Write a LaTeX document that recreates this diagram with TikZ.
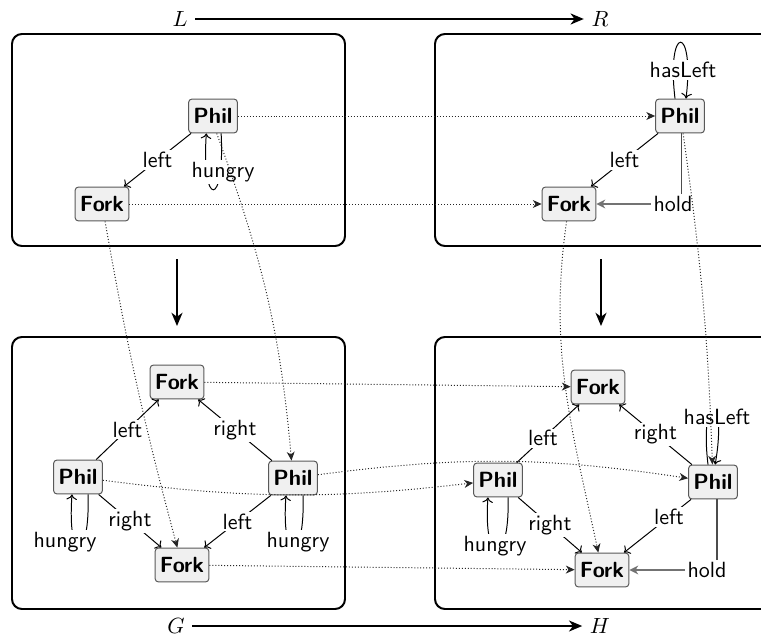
\documentclass[tikz,border=0pt]{standalone}
\usetikzlibrary{arrows.meta}
\begin{document}
\begin{tikzpicture}[x=0.4545pt,y=-0.4545pt,
  font=\sffamily,
  obj/.style={draw=black!65, fill=black!6, rounded corners=1.5pt,
    font=\sffamily\bfseries, inner xsep=2.2pt, inner ysep=0pt,
    minimum height=15.4pt, line width=0.45pt},
  frame/.style={draw, line width=0.9pt, rounded corners=4.5pt},
  lbl/.style={fill=white, inner sep=0.8pt},
  rel/.style={-{To[length=2.4pt,width=4.8pt]}, line width=0.45pt},
  morph/.style={dash pattern=on 0.45pt off 0.9pt, line width=0.45pt, black!85,
    -{Stealth[length=4pt,width=3.6pt,inset=1.2pt]}},
  rulearrow/.style={-{Stealth[length=6pt,width=5pt,inset=1.8pt]}, line width=0.9pt},
  holdup/.style={black!70, line width=0.6pt},
  holdin/.style={black!55, line width=1.1pt, -{Stealth[length=4pt,width=4pt,inset=1.2pt]}}
]
\useasboundingbox (0,0) rectangle (761,636);

% the four graphs of the double pushout
\draw[frame] (12,34) rectangle (345,246);
\draw[frame] (435,34) rectangle (778,246);
\draw[frame] (12,337) rectangle (345,609);
\draw[frame] (435,337) rectangle (778,609);

% rule and result arrows
\node (L) at (180,19) {$L$};
\node (R) at (600,19) {$R$};
\node (G) at (176,626) {$G$};
\node (H) at (600,626) {$H$};
\draw[rulearrow] (L) -- (R);
\draw[rulearrow] (G) -- (H);
\coordinate (lt) at (177,259);
\coordinate (lb) at (177,326);
\coordinate (rt) at (601,259);
\coordinate (rb) at (601,326);
\draw[rulearrow] (lt) -- (lb);
\draw[rulearrow] (rt) -- (rb);

% left-hand side L
\node[obj] (lp) at (213,116) {Phil};
\node[obj] (lf) at (102,204) {Fork};
\draw[rel] (lp) -- node[lbl] {left} (lf);
\draw[rel] (lp.-65) .. controls +(4,75) and +(-5,75) .. (lp.-111);
\node[lbl] (lhung) at (223,172) {hungry};

% right-hand side R
\node[obj] (rp) at (680,116) {Phil};
\node[obj] (rf) at (569,204) {Fork};
\draw[rel] (rp) -- node[lbl] {left} (rf);
\draw[rel] (rp.106) .. controls +(-9,-75) and +(9,-75) .. (rp.71);
\node[lbl] (rhas) at (683,70) {hasLeft};
\node[inner sep=1pt] (rh) at (673,204) {hold};
\draw[holdup] (rp.-85) -- (rp.-85 |- rh.north);
\draw[holdin] (rh) -- (rf);

% host graph G
\node[obj] (gf1) at (177,382) {Fork};
\node[obj] (gp1) at (78,477) {Phil};
\node[obj] (gp2) at (293,478) {Phil};
\node[obj] (gf2) at (182,565) {Fork};
\draw[rel] (gp1) -- node[lbl] {left} (gf1);
\draw[rel] (gp2) -- node[lbl] {right} (gf1);
\draw[rel] (gp1) -- node[lbl] {right} (gf2);
\draw[rel] (gp2) -- node[lbl] {left} (gf2);
\draw[rel] (gp1.-60) .. controls +(2,70) and +(-5,70) .. (gp1.-109);
\node[lbl] (ghung1) at (65,542) {hungry};
\draw[rel] (gp2.-60) .. controls +(2,70) and +(-5,70) .. (gp2.-112);
\node[lbl] (ghung2) at (298,542) {hungry};

% result graph H
\node[obj] (hf1) at (598,387) {Fork};
\node[obj] (hp1) at (498,480) {Phil};
\node[obj] (hp2) at (713,482) {Phil};
\node[obj] (hf2) at (602,570) {Fork};
\draw[rel] (hp1) -- node[lbl, pos=0.42] {left} (hf1);
\draw[rel] (hp2) -- node[lbl] {right} (hf1);
\draw[rel] (hp1) -- node[lbl] {right} (hf2);
\draw[rel] (hp2) -- node[lbl, pos=0.33] {left} (hf2);
\draw[rel] (hp1.-60) .. controls +(2,70) and +(-5,70) .. (hp1.-120);
\node[lbl] (hhung) at (495,546) {hungry};
\draw[rel] (hp2.106) .. controls +(-9,-75) and +(13,-75) .. (hp2.83);
\node[lbl] (hhas) at (717,417) {hasLeft};
\node[inner sep=1pt] (hh) at (707,570) {hold};
\draw[holdup] (hp2.-77) -- (hp2.-77 |- hh.north);
\draw[holdin] (hh) -- (hf2);

% matches and morphisms
\draw[morph] (lp) -- (rp);
\draw[morph] (lf) -- (rf);
\draw[morph] (lf) to[out=-80,in=105] (gf2);
\draw[morph] (lp.-78) to[out=-70,in=95] (gp2);
\draw[morph] (rf) to[out=-98,in=102] (hf2);
\draw[morph] (rp.-80) to[out=-82,in=92] (hp2);
\draw[morph] (gf1) -- (hf1);
\draw[morph] (gf2) -- (hf2);
\draw[morph] (gp1) to[bend right=7] (hp1);
\draw[morph] (gp2) to[bend left=8] (hp2);
\end{tikzpicture}
\end{document}
